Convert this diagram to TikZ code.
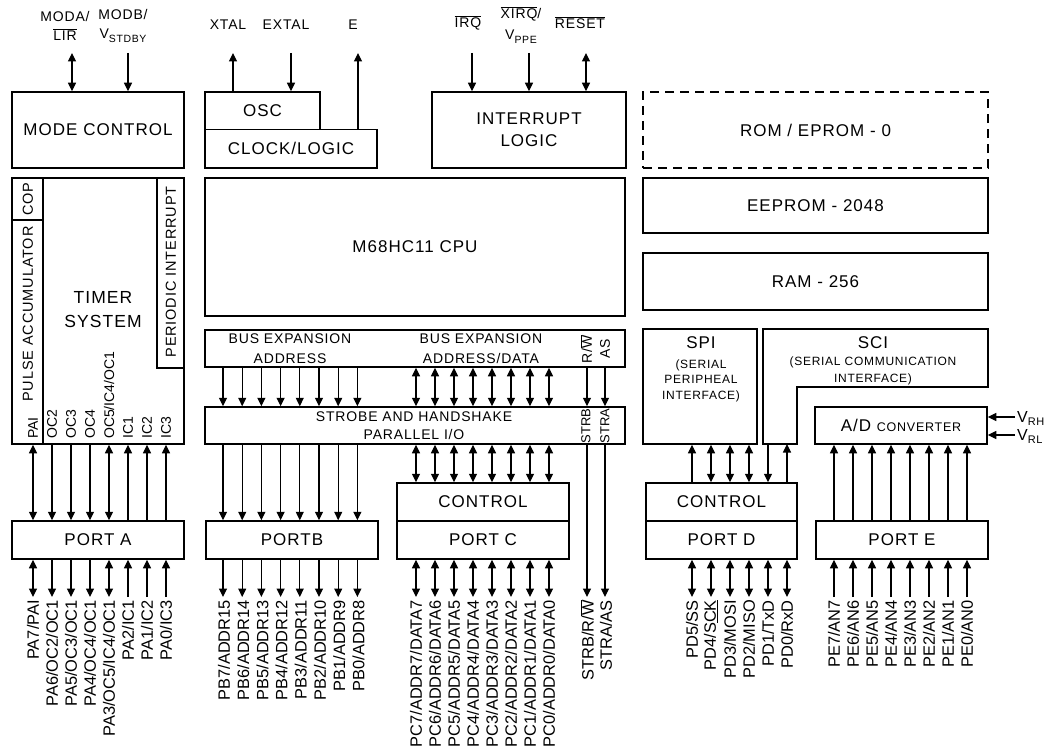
\documentclass[tikz,border=0pt]{standalone}
\usepackage{fontspec}
\setmainfont{Liberation Sans}
\newfontfamily\trk[LetterSpace=6]{Liberation Sans}
\usetikzlibrary{arrows.meta}
\newcommand{\myovl}[1]{$\overline{\hbox{#1}}$}
\newcommand{\fsz}[2]{\fontsize{#1bp}{#2bp}\selectfont}
\newcommand{\lowsub}[1]{\raisebox{-3.5bp}{\fsz{10.5}{11}#1}}
\begin{document}
\begin{tikzpicture}[x=1bp,y=-1bp,
  box/.style={draw, line width=1.5bp, inner sep=0pt, align=center, font=\trk\fsz{17}{21}},
  tx/.style={inner sep=0pt, align=center, font=\trk\fsz{14}{20}},
  pin/.style={inner sep=0pt, rotate=90, anchor=east, font=\fsz{16.4}{18}},
  tpin/.style={inner sep=0pt, rotate=90, anchor=west, font=\fsz{14}{16}},
  con/.style={line width=1.2bp},
  hd/.style={con, -{Triangle[length=8.5bp,width=8bp]}},
  dbl/.style={con, {Triangle[length=8.5bp,width=8bp]}-{Triangle[length=8.5bp,width=8bp]}},
  inner/.style={line width=1.5bp}
]
\useasboundingbox (0,0) rectangle (1054,750);
\coordinate (toprow) at (0,53);
\coordinate (pinrow) at (0,597);

% ---------- row 1 ----------
\node[box, minimum width=172bp, minimum height=76bp] (mode) at (98,130) {MODE CONTROL};
\node[box, minimum width=115bp, minimum height=37.5bp] (osc) at (262.5,110.75) {OSC};
\node[box, minimum width=172bp, minimum height=38.5bp] (clock) at (291,148.75) {CLOCK/LOGIC};
\node[box, minimum width=194bp, minimum height=76bp, font=\trk\fsz{17}{22}] (intr) at (529,130) {INTERRUPT\\LOGIC};
\node[box, dash pattern=on 9bp off 6bp, minimum width=345bp, minimum height=76bp] (rom) at (815.5,130) {ROM / EPROM - 0};

% top labels
\node[tx, font=\trk\fsz{14}{19}] (lmoda) at (65,25.5) {MODA/\\\myovl{LIR}};
\node[tx, font=\trk\fsz{14}{19}] (lmodb) at (123,26) {MODB/\\V\lowsub{STDBY}};
\node[tx] (lxtal) at (228,25) {XTAL};
\node[tx] (lextal) at (286,25) {EXTAL};
\node[tx] (le) at (353,25) {E};
\node[tx] (lirq) at (468,23) {\myovl{IRQ}};
\node[tx, font=\trk\fsz{14}{21}] (lxirq) at (521,25) {\myovl{XIRQ}/\\V\lowsub{PPE}};
\node[tx] (lreset) at (580,23) {\myovl{RESET}};

% top connectors
\draw[dbl] (mode.north -| 72,0) -- (72,0 |- toprow);
\draw[hd] (128,0 |- toprow) -- (mode.north -| 128,0);
\draw[hd] (osc.north -| 233,0) -- (233,0 |- toprow);
\draw[hd] (291,0 |- toprow) -- (osc.north -| 291,0);
\draw[hd] (clock.north -| 358,0) -- (358,0 |- toprow);
\draw[hd] (472,0 |- toprow) -- (intr.north -| 472,0);
\draw[hd] (529,0 |- toprow) -- (intr.north -| 529,0);
\draw[dbl] (intr.north -| 586,0) -- (586,0 |- toprow);

% ---------- row 2 ----------
\node[box, minimum width=172bp, minimum height=266bp] (timer) at (98,311) {};
\draw[inner] (timer.north -| 43,0) -- (timer.south -| 43,0);
\draw[inner] (timer.west |- 0,220) -- (43,220);
\draw[inner] (timer.north -| 157,0) -- (157,368) -- (timer.east |- 0,368);
\node[tx, rotate=90, font=\trk\fsz{14.5}{16}] (cop) at (28,199) {COP};
\node[tx, rotate=90, font=\trk\fsz{14.5}{16}] (pacc) at (28,314) {PULSE ACCUMULATOR};
\node[tx, rotate=90, font=\trk\fsz{14.5}{16}] (pint) at (171,272) {PERIODIC INTERRUPT};
\node[tx, font=\trk\fsz{17.5}{24}] (tsys) at (103,310) {TIMER\\SYSTEM};
\foreach \t [count=\i from 0] in {PAI,OC2,OC3,OC4,OC5/IC4/OC1,IC1,IC2,IC3}
  \node[tpin] (tp\i) at ({33+19*\i},439) {\t};

\node[box, minimum width=420bp, minimum height=138bp] (cpu) at (415,247) {M68HC11 CPU};
\node[box, minimum width=345bp, minimum height=55bp] (eeprom) at (815.5,205.5) {EEPROM - 2048};
\node[box, minimum width=345bp, minimum height=57bp] (ram) at (815.5,281.5) {RAM - 256};

% bus expansion and strobe
\node[box, minimum width=420bp, minimum height=37bp] (bus) at (415,348.5) {};
\node[tx] (bal) at (290,348.5) {BUS EXPANSION\\ADDRESS};
\node[tx] (bad) at (481,348.5) {BUS EXPANSION\\ADDRESS/DATA};
\node[tx, rotate=90] (rw) at (586,349) {R/\myovl{W}};
\node[tx, rotate=90] (as) at (605,349) {AS};
\node[box, minimum width=420bp, minimum height=37bp] (strobe) at (415,425.5) {};
\node[tx, font=\trk\fsz{14}{18}] (spt) at (414,426) {STROBE AND HANDSHAKE\\PARALLEL I/O};
\node[tx, rotate=90, font=\fsz{13}{14}] (strb) at (586,426) {STRB};
\node[tx, rotate=90, font=\fsz{13}{14}] (stra) at (605,426) {STRA};

% SPI / SCI / AD
\node[box, minimum width=114bp, minimum height=115bp] (spi) at (700,386.5) {};
\node[tx, font=\trk\fsz{17}{20}] (spit) at (701,343) {SPI};
\node[tx, font=\trk\fsz{12}{15.5}] (spis) at (701,380.5) {(SERIAL\\PERIPHEAL\\INTERFACE)};
\draw[line width=1.5bp] (763,329) -- (988,329) -- (988,387) -- (797,387) -- (797,444) -- (763,444) -- cycle;
\coordinate (scibot) at (780,444);
\node[tx, font=\trk\fsz{17}{20}] (scit) at (873,343) {SCI};
\node[tx, font=\trk\fsz{12}{17}] (scis) at (873,370.5) {(SERIAL COMMUNICATION\\INTERFACE)};
\node[box, minimum width=172bp, minimum height=37bp] (ad) at (901,425.5) {A/D {\fsz{12.5}{14}CONVERTER}};
\coordinate (vrhc) at (1015,417);
\coordinate (vrlc) at (1015,435);
\node[anchor=base west, inner sep=0pt, font=\trk\fsz{16}{18}] (vrh) at (1017,422) {V{\fsz{11}{12}\raisebox{-3bp}{RH}}};
\node[anchor=base west, inner sep=0pt, font=\trk\fsz{16}{18}] (vrl) at (1017,440) {V{\fsz{11}{12}\raisebox{-3bp}{RL}}};
\draw[hd] (vrhc) -- (ad.east |- vrhc);
\draw[hd] (vrlc) -- (ad.east |- vrlc);

% ---------- ports ----------
\node[box, minimum width=172bp, minimum height=38bp] (portA) at (98,540) {PORT A};
\node[box, minimum width=172bp, minimum height=38bp] (portB) at (292,540) {PORTB};
\node[box, minimum width=172bp, minimum height=38bp] (ctlC) at (483,502) {CONTROL};
\node[box, minimum width=172bp, minimum height=38bp] (portC) at (483,540) {PORT C};
\node[box, minimum width=151bp, minimum height=38bp] (ctlD) at (721.5,502) {CONTROL};
\node[box, minimum width=151bp, minimum height=38bp] (portD) at (721.5,540) {PORT D};
\node[box, minimum width=172bp, minimum height=38bp] (portE) at (902,540) {PORT E};

% port A connectors
\foreach \x in {33,109} {
  \draw[dbl] (timer.south -| \x,0) -- (portA.north -| \x,0);
  \draw[dbl] (portA.south -| \x,0) -- (\x,0 |- pinrow);
}
\foreach \x in {52,71,90} {
  \draw[hd] (timer.south -| \x,0) -- (portA.north -| \x,0);
  \draw[hd] (portA.south -| \x,0) -- (\x,0 |- pinrow);
}
\foreach \x in {128,147,166} {
  \draw[hd] (portA.north -| \x,0) -- (timer.south -| \x,0);
  \draw[hd] (\x,0 |- pinrow) -- (portA.south -| \x,0);
}

% bus, port B, port C, port E connectors
\foreach \i in {0,...,7} {
  \pgfmathsetmacro{\xb}{223+19.2*\i}
  \draw[hd] (bus.south -| \xb,0) -- (strobe.north -| \xb,0);
  \draw[hd] (strobe.south -| \xb,0) -- (portB.north -| \xb,0);
  \draw[hd] (portB.south -| \xb,0) -- (\xb,0 |- pinrow);
  \pgfmathsetmacro{\xc}{416+19*\i}
  \draw[dbl] (bus.south -| \xc,0) -- (strobe.north -| \xc,0);
  \draw[dbl] (strobe.south -| \xc,0) -- (ctlC.north -| \xc,0);
  \draw[dbl] (portC.south -| \xc,0) -- (\xc,0 |- pinrow);
  \pgfmathsetmacro{\xe}{834+19*\i}
  \draw[hd] (portE.north -| \xe,0) -- (ad.south -| \xe,0);
  \draw[hd] (\xe,0 |- pinrow) -- (portE.south -| \xe,0);
}
\draw[hd] (bus.south -| 587,0) -- (strobe.north -| 587,0);
\draw[hd] (bus.south -| 605,0) -- (strobe.north -| 605,0);
\draw[hd] (strobe.south -| 587,0) -- (587,0 |- pinrow);
\draw[hd] (strobe.south -| 605,0) -- (605,0 |- pinrow);

% port D connectors
\draw[hd] (ctlD.north -| 692,0) -- (spi.south -| 692,0);
\foreach \x in {711,730,749}
  \draw[dbl] (ctlD.north -| \x,0) -- (spi.south -| \x,0);
\draw[hd] (scibot -| 768,0) -- (ctlD.north -| 768,0);
\draw[hd] (ctlD.north -| 787,0) -- (scibot -| 787,0);
\foreach \x in {692,711,730,749,768,787}
  \draw[dbl] (portD.south -| \x,0) -- (\x,0 |- pinrow);

% ---------- pin labels ----------
\foreach \t [count=\i from 0] in {PA7/PAI,PA6/OC2/OC1,PA5/OC3/OC1,PA4/OC4/OC1,PA3/OC5/IC4/OC1,PA2/IC1,PA1/IC2,PA0/IC3}
  \node[pin] (pa\i) at ({33+19*\i},600) {\t};
\foreach \t [count=\i from 0] in {PB7/ADDR15,PB6/ADDR14,PB5/ADDR13,PB4/ADDR12,PB3/ADDR11,PB2/ADDR10,PB1/ADDR9,PB0/ADDR8}
  \node[pin] (pb\i) at ({224+19.2*\i},600) {\t};
\foreach \t [count=\i from 0] in {PC7/ADDR7/DATA7,PC6/ADDR6/DATA6,PC5/ADDR5/DATA5,PC4/ADDR4/DATA4,PC3/ADDR3/DATA3,PC2/ADDR2/DATA2,PC1/ADDR1/DATA1,PC0/ADDR0/DATA0}
  \node[pin] (pc\i) at ({416+19*\i},600) {\t};
\node[pin] (strbl) at (587,600) {STRB/R/\myovl{W}};
\node[pin] (stral) at (606,600) {STRA/AS};
\foreach \t [count=\i from 0] in {PD5/SS,PD4/S\underline{CK},PD3/MOSI,PD2/MISO,PD1/TxD,PD0/RxD}
  \node[pin] (pd\i) at ({692+19*\i},600) {\t};
\foreach \t [count=\i from 0] in {PE7/AN7,PE6/AN6,PE5/AN5,PE4/AN4,PE3/AN3,PE2/AN2,PE1/AN1,PE0/AN0}
  \node[pin] (pe\i) at ({834+19*\i},600) {\t};
\end{tikzpicture}
\end{document}
